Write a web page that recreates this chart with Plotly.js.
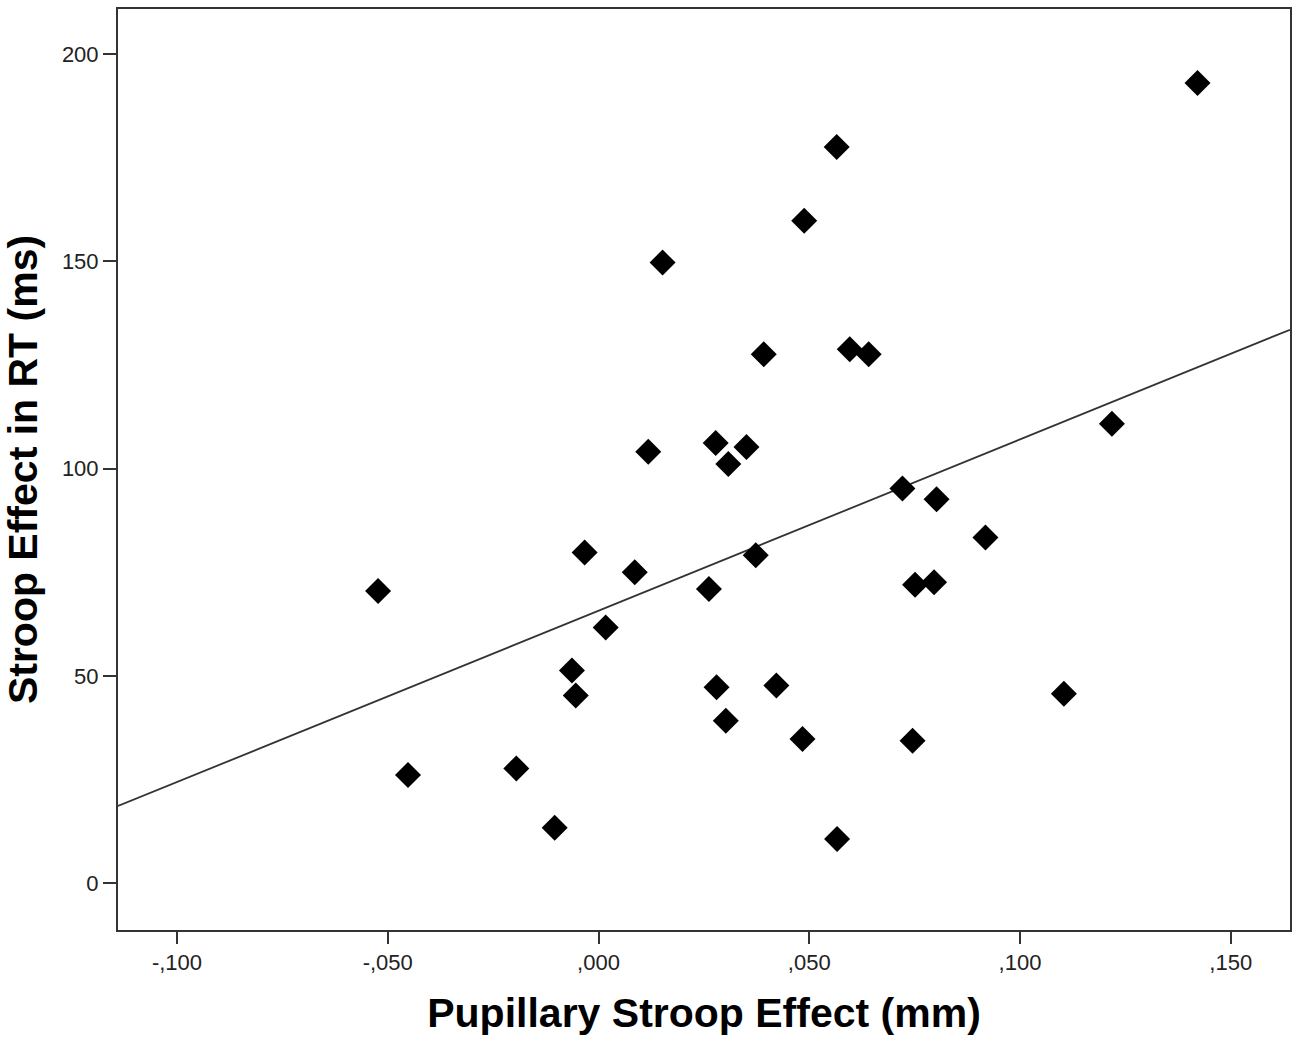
<!DOCTYPE html>
<html>
<head>
<meta charset="utf-8">
<script src="https://cdn.plot.ly/plotly-3.0.1.min.js"></script>
<style>html,body{margin:0;padding:0;background:#fff;}#chart{width:1300px;height:1045px;}</style>
</head>
<body>
<div id="chart"></div>
<script>
// Pupillary Stroop effect (mm)
const pupilEffect = [
  -0.0523, -0.0452, -0.0195, -0.0104, -0.0063, -0.0054, -0.0033, 0.0017, 0.0086,
  0.0118, 0.0152, 0.0262, 0.0278, 0.0280, 0.0302, 0.0308, 0.0351, 0.0373, 0.0392,
  0.0422, 0.0484, 0.0488, 0.0565, 0.0566, 0.0596, 0.0641, 0.0721, 0.0745, 0.0751,
  0.0796, 0.0802, 0.0918, 0.1104, 0.1218, 0.1421
];
// Stroop effect in RT (ms)
const rtEffect = [
  70.5, 26.1, 27.7, 13.4, 51.3, 45.3, 79.8, 61.7, 75.0,
  104.1, 149.7, 71.0, 106.2, 47.3, 39.2, 101.1, 105.2, 79.1, 127.6,
  47.7, 34.8, 159.8, 177.6, 10.7, 128.8, 127.6, 95.2, 34.4, 72.0,
  72.6, 92.6, 83.4, 45.7, 110.8, 193.0
];
const xTickVals = [-0.1, -0.05, 0, 0.05, 0.1, 0.15];
const xTickText = ["-,100", "-,050", ",000", ",050", ",100", ",150"];
const yTickVals = [0, 50, 100, 150, 200];
const yTickText = ["0", "50", "100", "150", "200"];
const xRange = [-0.1140, 0.16405];
const yRange = [-11.27, 210.86];

// least-squares fit line
const n = pupilEffect.length;
const mx = pupilEffect.reduce((a, b) => a + b, 0) / n;
const my = rtEffect.reduce((a, b) => a + b, 0) / n;
let sxy = 0, sxx = 0;
for (let i = 0; i < n; i++) {
  sxy += (pupilEffect[i] - mx) * (rtEffect[i] - my);
  sxx += (pupilEffect[i] - mx) ** 2;
}
const slope = sxy / sxx;
const intercept = my - slope * mx;
const fitX = xRange.slice();
const fitY = fitX.map(v => intercept + slope * v);

const font = "Arial, 'Liberation Sans', sans-serif";
const lineCol = "#333333";

const traces = [
  {
    x: fitX, y: fitY, type: "scatter", mode: "lines",
    line: {color: "#333333", width: 1.8},
    hoverinfo: "skip", showlegend: false
  },
  {
    x: pupilEffect, y: rtEffect, type: "scatter", mode: "markers",
    marker: {symbol: "diamond", size: 20, color: "#000000", line: {width: 0}},
    showlegend: false
  }
];

const layout = {
  width: 1300, height: 1045,
  margin: {l: 118, r: 10, t: 9, b: 115},
  paper_bgcolor: "#ffffff", plot_bgcolor: "#ffffff",
  showlegend: false,
  font: {family: font, color: "#222222"},
  xaxis: {
    range: xRange, tickvals: xTickVals, ticktext: xTickText,
    showgrid: false, zeroline: false,
    showline: true, mirror: true, linecolor: lineCol, linewidth: 2,
    ticks: "outside", ticklen: 12, tickwidth: 2, tickcolor: lineCol,
    tickfont: {family: font, size: 22, color: "#222222"},
    title: {text: "Pupillary Stroop Effect (mm)", standoff: 24,
            font: {family: font, size: 41, color: "#000000", weight: "bold"}}
  },
  yaxis: {
    range: yRange, tickvals: yTickVals, ticktext: yTickText,
    showgrid: false, zeroline: false,
    showline: true, mirror: true, linecolor: lineCol, linewidth: 2,
    ticks: "outside", ticklen: 13, tickwidth: 2, tickcolor: lineCol,
    tickfont: {family: font, size: 22, color: "#222222"},
    title: {text: "Stroop Effect in RT (ms)", standoff: 14,
            font: {family: font, size: 41, color: "#000000", weight: "bold"}}
  }
};

Plotly.newPlot("chart", traces, layout, {displayModeBar: false, staticPlot: true});
</script>
</body>
</html>
